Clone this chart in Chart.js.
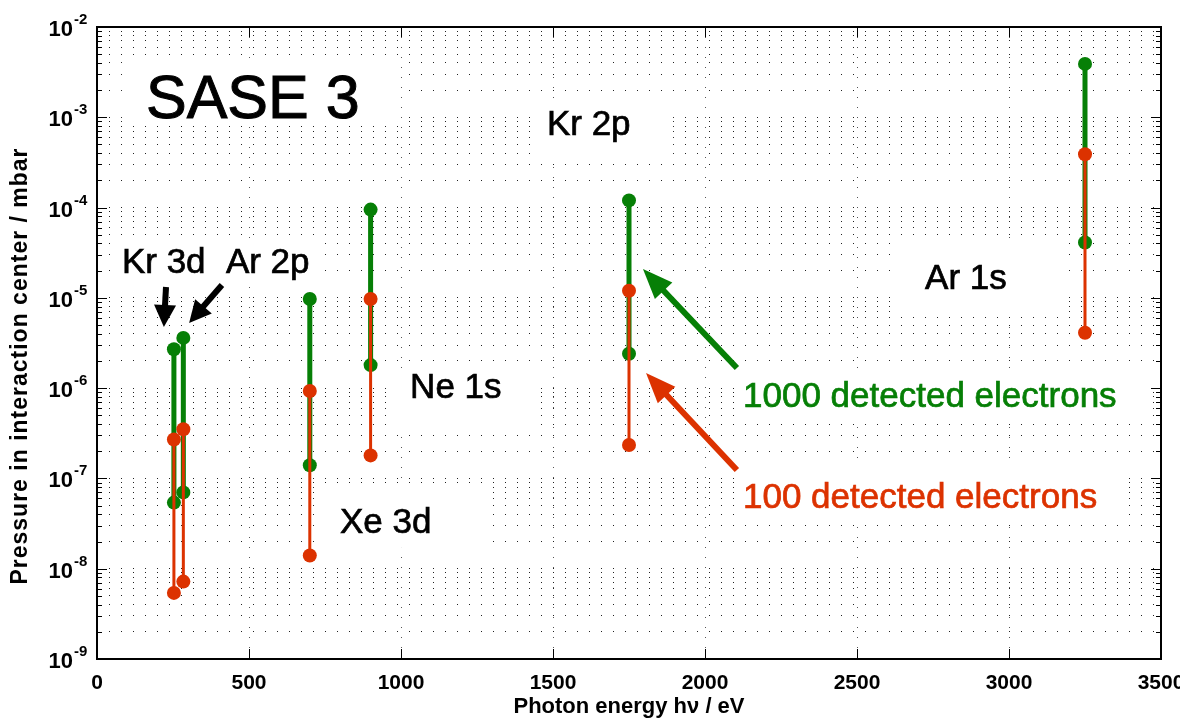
<!doctype html>
<html lang="en">
<head>
<meta charset="UTF-8">
<title>SASE 3</title>
<script src="https://cdn.jsdelivr.net/npm/chart.js"></script>
<style>
  html, body { margin: 0; padding: 0; background: #fff; }
  #wrap { width: 1180px; height: 723px; }
</style>
</head>
<body>
<div id="wrap"><canvas id="pressure"></canvas></div>
<script>
  // photon energy of each edge, eV
  const edges = ['Kr 3d', 'Ar 2p', 'Xe 3d', 'Ne 1s', 'Kr 2p', 'Ar 1s'];
  const energy = [253, 284, 700, 900, 1750, 3250];

  // pressure range (mbar) for 1000 detected electrons
  const greenTop = [2.7e-6, 3.6e-6, 9.7e-6, 9.5e-5, 1.2e-4, 3.9e-3];
  const greenBottom = [5.4e-8, 7.0e-8, 1.4e-7, 1.8e-6, 2.4e-6, 4.1e-5];
  // pressure range (mbar) for 100 detected electrons
  const redTop = [2.7e-7, 3.5e-7, 9.3e-7, 9.7e-6, 1.2e-5, 3.9e-4];
  const redBottom = [5.4e-9, 7.2e-9, 1.4e-8, 1.8e-7, 2.35e-7, 4.1e-6];

  const yExponents = [-9, -8, -7, -6, -5, -4, -3, -2];

  const GREEN = '#067f06';
  const RED = '#dc3200';
  const FONT = '"Liberation Sans", Arial, Helvetica, sans-serif';

  // annotations, in data coordinates (eV, mbar)
  const notes = [
    {text: 'SASE 3', x: 161, y: 9.8e-4, size: 61, color: '#000'},
    {text: 'Kr 3d', x: 82, y: 1.89e-5, size: 35, color: '#000'},
    {text: 'Ar 2p', x: 424, y: 1.89e-5, size: 35, color: '#000'},
    {text: 'Xe 3d', x: 799, y: 2.49e-8, size: 35, color: '#000'},
    {text: 'Ne 1s', x: 1030, y: 7.8e-7, size: 35, color: '#000'},
    {text: 'Kr 2p', x: 1480, y: 6.37e-4, size: 35, color: '#000'},
    {text: 'Ar 1s', x: 2724, y: 1.26e-5, size: 35, color: '#000'},
    {text: '1000 detected electrons', x: 2125, y: 6.2e-7, size: 35, color: GREEN},
    {text: '100 detected electrons', x: 2125, y: 4.7e-8, size: 35, color: RED}
  ];
  // white backgrounds behind the text: [x0, x1, yTop, yBottom]
  const whiteBoxes = [
    [82, 997, 4.54e-3, 8.87e-4],
    [69, 734, 4.6e-5, 1.5e-5],
    [743, 1293, 8.05e-8, 1.7e-8],
    [974, 1457, 1.51e-6, 3.44e-7],
    [1434, 1895, 1.55e-3, 3.54e-4],
    [2632, 3178, 4.16e-5, 6.47e-6],
    [2099, 3454, 1.67e-6, 4.45e-7],
    [2099, 3375, 1.41e-7, 3.05e-8]
  ];
  // arrows: from [x, y] to [x, y]
  const arrows = [
    {from: [227, 1.32e-5], to: [220, 4.76e-6], color: '#000', w: 6, head: 22, half: 11},
    {from: [411, 1.39e-5], to: [303, 5.27e-6], color: '#000', w: 6, head: 22, half: 11},
    {from: [2105, 1.67e-6], to: [1796, 2.09e-5], color: GREEN, w: 6, head: 30, half: 12},
    {from: [2105, 1.24e-7], to: [1806, 1.47e-6], color: RED, w: 6, head: 30, half: 12}
  ];

  function segments(top, bottom) {
    const out = [];
    energy.forEach((e, i) => {
      out.push({x: e, y: top[i]}, {x: e, y: bottom[i]}, {x: e, y: null});
    });
    return out;
  }

  function drawArrow(ctx, x0, y0, x1, y1, a) {
    const ang = Math.atan2(y1 - y0, x1 - x0);
    const bx = x1 - a.head * Math.cos(ang), by = y1 - a.head * Math.sin(ang);
    ctx.strokeStyle = a.color;
    ctx.lineWidth = a.w;
    ctx.beginPath();
    ctx.moveTo(x0, y0);
    ctx.lineTo(bx + 2 * Math.cos(ang), by + 2 * Math.sin(ang));
    ctx.stroke();
    ctx.fillStyle = a.color;
    ctx.beginPath();
    ctx.moveTo(x1, y1);
    ctx.lineTo(bx + a.half * Math.sin(ang), by - a.half * Math.cos(ang));
    ctx.lineTo(bx - a.half * Math.sin(ang), by + a.half * Math.cos(ang));
    ctx.closePath();
    ctx.fill();
  }

  const decor = {
    id: 'decor',
    beforeDatasetsDraw(chart) {
      const {ctx, scales: {x, y}} = chart;
      ctx.save();
      ctx.fillStyle = '#fff';
      whiteBoxes.forEach(b => {
        const x0 = x.getPixelForValue(b[0]), x1 = x.getPixelForValue(b[1]);
        const y0 = y.getPixelForValue(b[2]), y1 = y.getPixelForValue(b[3]);
        ctx.fillRect(x0, y0, x1 - x0, y1 - y0);
      });
      ctx.restore();
    },
    afterDatasetsDraw(chart) {
      const {ctx, scales: {x, y}} = chart;
      ctx.save();
      notes.forEach(n => {
        ctx.font = n.size + 'px ' + FONT;
        ctx.fillStyle = n.color;
        ctx.strokeStyle = n.color;
        ctx.lineWidth = n.size > 40 ? 1 : 0.7;
        ctx.textAlign = 'left';
        ctx.textBaseline = 'alphabetic';
        const px = x.getPixelForValue(n.x), py = y.getPixelForValue(n.y);
        ctx.fillText(n.text, px, py);
        ctx.strokeText(n.text, px, py);
      });
      arrows.forEach(a => {
        drawArrow(ctx,
          x.getPixelForValue(a.from[0]), y.getPixelForValue(a.from[1]),
          x.getPixelForValue(a.to[0]), y.getPixelForValue(a.to[1]), a);
      });
      ctx.restore();
    },
    afterDraw(chart) {
      const {ctx, chartArea: ca, scales: {x, y}} = chart;
      ctx.save();
      ctx.strokeStyle = '#000';
      // inward ticks
      ctx.lineWidth = 1;
      y.ticks.forEach(t => {
        const py = Math.round(y.getPixelForValue(t.value)) + 0.5;
        const len = t.major ? 10 : 5;
        ctx.beginPath();
        ctx.moveTo(ca.left, py); ctx.lineTo(ca.left + len, py);
        ctx.moveTo(ca.right, py); ctx.lineTo(ca.right - len, py);
        ctx.stroke();
      });
      x.ticks.forEach(t => {
        const px = Math.round(x.getPixelForValue(t.value)) + 0.5;
        ctx.beginPath();
        ctx.moveTo(px, ca.bottom); ctx.lineTo(px, ca.bottom - 10);
        ctx.moveTo(px, ca.top); ctx.lineTo(px, ca.top + 10);
        ctx.stroke();
      });
      // axes box
      ctx.lineWidth = 2;
      ctx.strokeRect(ca.left, ca.top, ca.right - ca.left, ca.bottom - ca.top);
      // y tick labels 10^n
      ctx.fillStyle = '#000';
      yExponents.forEach(e => {
        const py = y.getPixelForValue(Math.pow(10, e));
        ctx.font = 'bold 22px ' + FONT;
        ctx.textAlign = 'right';
        ctx.textBaseline = 'alphabetic';
        ctx.fillText('10', 73, py + 9);
        ctx.font = 'bold 15px ' + FONT;
        ctx.textAlign = 'left';
        ctx.fillText(String(e), 74, py - 3);
      });
      // y axis title
      ctx.save();
      ctx.translate(21, 366);
      ctx.rotate(-Math.PI / 2);
      ctx.font = 'bold 23px ' + FONT;
      ctx.letterSpacing = '1px';
      ctx.textAlign = 'center';
      ctx.textBaseline = 'middle';
      ctx.fillText('Pressure in interaction center / mbar', 0, 0);
      ctx.restore();
      ctx.restore();
    }
  };

  const yTickValues = [];
  yExponents.forEach(e => {
    if (e === -2) { yTickValues.push({value: 1e-2, major: true}); return; }
    for (let m = 1; m <= 9; m++) {
      yTickValues.push({value: m * Math.pow(10, e), major: m === 1});
    }
  });

  new Chart(document.getElementById('pressure'), {
    type: 'line',
    data: {
      datasets: [
        {
          label: '100 detected electrons',
          data: segments(redTop, redBottom),
          borderColor: RED,
          backgroundColor: RED,
          borderWidth: 3,
          pointRadius: 7,
          pointBorderWidth: 0,
          pointBackgroundColor: RED,
          spanGaps: false,
          order: 1
        },
        {
          label: '1000 detected electrons',
          data: segments(greenTop, greenBottom),
          borderColor: GREEN,
          backgroundColor: GREEN,
          borderWidth: 5,
          pointRadius: 7,
          pointBorderWidth: 0,
          pointBackgroundColor: GREEN,
          spanGaps: false,
          order: 2
        }
      ]
    },
    options: {
      responsive: true,
      maintainAspectRatio: false,
      animation: false,
      layout: {padding: {top: 27, right: 19, left: 0, bottom: 0}},
      plugins: {legend: {display: false}, tooltip: {enabled: false}},
      scales: {
        x: {
          type: 'linear',
          min: 0,
          max: 3500,
          ticks: {stepSize: 500, color: '#000', padding: 12, maxRotation: 0,
                  font: {family: FONT, size: 21, weight: 'bold'},
                  callback: v => String(v)},
          grid: {color: '#555', lineWidth: 1, drawTicks: false},
          border: {display: false, dash: [1, 9]},
          title: {display: true, text: 'Photon energy h\u03bd / eV', color: '#000',
                  padding: {top: 0, bottom: 3}, font: {family: FONT, size: 22, weight: 'bold'}},
          afterFit(scale) {
            scale.height = 64;
            scale.paddingLeft = 0;
            scale.paddingRight = 0;
          }
        },
        y: {
          type: 'logarithmic',
          min: 1e-9,
          max: 1e-2,
          afterBuildTicks(scale) { scale.ticks = yTickValues.map(t => ({value: t.value, major: t.major})); },
          ticks: {display: false},
          grid: {color: '#222', lineWidth: 1, drawTicks: false},
          border: {display: false, dash: [1, 11]},
          title: {display: false},
          afterFit(scale) { scale.width = 97; }
        }
      }
    },
    plugins: [decor]
  });
</script>
</body>
</html>
